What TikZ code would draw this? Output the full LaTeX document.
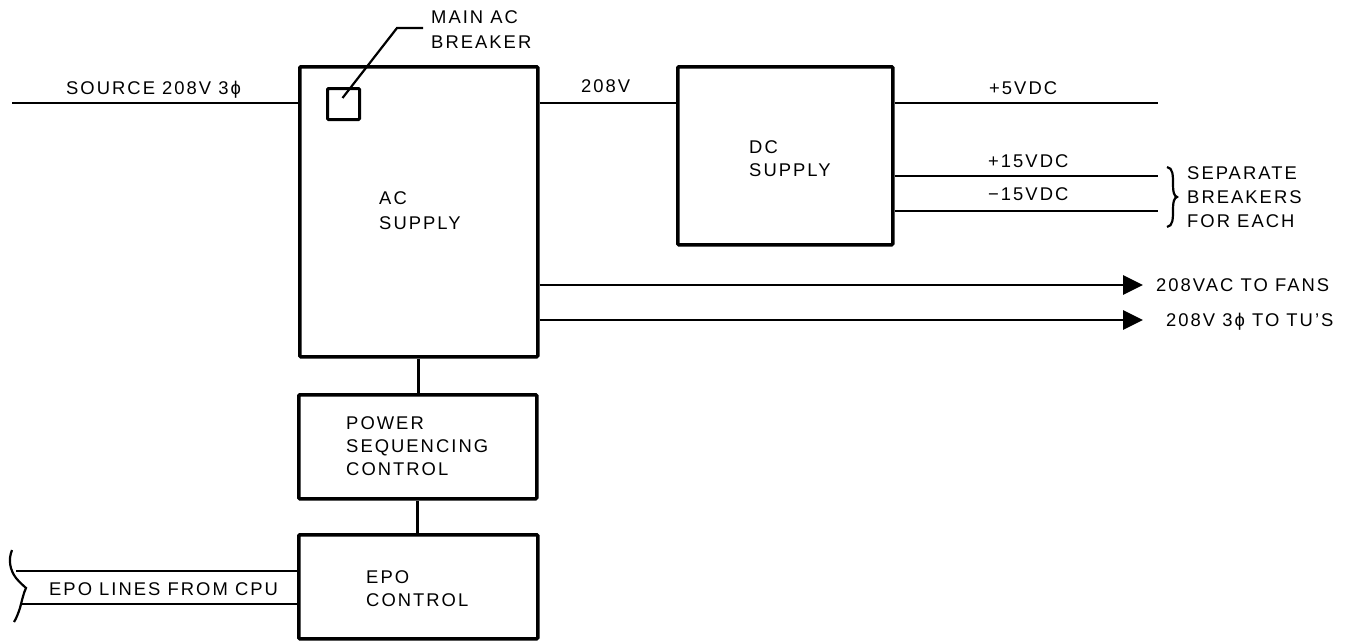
\documentclass[tikz,border=0pt]{standalone}
\usepackage{fontspec}
\setmainfont{Liberation Sans}[LetterSpace=11]
\usetikzlibrary{arrows.meta}
\tikzset{
  blk/.style={draw, line width=3.5pt, rounded corners=1pt, inner sep=0pt, anchor=north west},
  wire/.style={line width=2.9pt},
  arr/.style={line width=2.9pt, -{Triangle[length=20pt,width=19pt]}},
  lbl/.style={inner sep=0pt, anchor=west, text height=13.2pt, text depth=0pt,
              font=\fontsize{18.4}{24}\selectfont},
  thinl/.style={line width=2.2pt}
}
\begin{document}
\begin{tikzpicture}[x=1pt,y=-1pt]
\useasboundingbox (0,0) rectangle (1348,642);
% boxes
\node[blk, minimum width=238pt, minimum height=290pt] (ac) at (298,65) {};
\node[blk, minimum width=215pt, minimum height=178pt] (dc) at (676,65) {};
\node[blk, minimum width=238pt, minimum height=104pt] (psc) at (297,393) {};
\node[blk, minimum width=239pt, minimum height=104pt] (epo) at (297,533) {};
\node[draw, line width=3pt, rounded corners=1pt, inner sep=0pt, anchor=north west,
      minimum width=32pt, minimum height=31pt] (brk) at (326,87) {};
% helper coordinates
\coordinate (srcL) at (12,103);
\coordinate (y208) at (0,103);
\coordinate (p5) at (1158,103);
\coordinate (p15) at (1158,176);
\coordinate (m15) at (1158,211);
\coordinate (fan) at (1143,285);
\coordinate (tus) at (1143,320);
\coordinate (e1) at (16,571);
\coordinate (e2) at (22,604);
\coordinate (ldA) at (397,28);
\coordinate (ldB) at (423,28);
% connectors
\draw[wire] (srcL) -- (srcL -| ac.west);
\draw[wire] (ac.east |- y208) -- (dc.west |- y208);
\draw[wire] (dc.east |- p5) -- (p5);
\draw[wire] (dc.east |- p15) -- (p15);
\draw[wire] (dc.east |- m15) -- (m15);
\draw[arr] (ac.east |- fan) -- (fan);
\draw[arr] (ac.east |- tus) -- (tus);
\draw[wire] (ac.south) -- (ac.south |- psc.north);
\draw[wire] (psc.south) -- (psc.south |- epo.north);
\draw[wire] (e1) -- (e1 -| epo.west);
\draw[wire] (e2) -- (e2 -| epo.west);
\draw[thinl] ([shift={(-1,-6)}]brk.center) -- (ldA) -- (ldB);
% braces
\draw[thinl] (1167,167) .. controls (1173,168) and (1173,175) .. (1173,185)
  .. controls (1173,192) and (1174,196) .. (1177,197)
  .. controls (1174,198) and (1173,202) .. (1173,209)
  .. controls (1173,219) and (1173,226) .. (1167,227);
\draw[thinl] (12,550) .. controls (8,560) and (10,570) .. (16,578)
  .. controls (20,583) and (24,586) .. (26,588)
  .. controls (24,592) and (22,600) .. (20,608)
  .. controls (18,614) and (16,619) .. (14,622);
% labels
\node[lbl] (tsrc) at (66,88) {SOURCE 208V 3ϕ};
\node[lbl] (tmain1) at (431,17) {MAIN AC};
\node[lbl] (tmain2) at (431,42) {BREAKER};
\node[lbl] (t208) at (581,86) {208V};
\node[lbl] (tac1) at (379,198) {AC};
\node[lbl] (tac2) at (379,223) {SUPPLY};
\node[lbl] (tdc1) at (749,147) {DC};
\node[lbl] (tdc2) at (749,170) {SUPPLY};
\node[lbl] (t5) at (989,88) {+5VDC};
\node[lbl] (t15) at (988,161) {+15VDC};
\node[lbl] (tm15) at (988,194) {−15VDC};
\node[lbl] (ts1) at (1187,173) {SEPARATE};
\node[lbl] (ts2) at (1187,197) {BREAKERS};
\node[lbl] (ts3) at (1187,221) {FOR EACH};
\node[lbl] (tfan) at (1156,285) {208VAC TO FANS};
\node[lbl] (ttu) at (1166,320) {208V 3ϕ TO TU’S};
\node[lbl] (tp1) at (346,423) {POWER};
\node[lbl] (tp2) at (346,446) {SEQUENCING};
\node[lbl] (tp3) at (346,469) {CONTROL};
\node[lbl] (te1) at (366,577) {EPO};
\node[lbl] (te2) at (366,600) {CONTROL};
\node[lbl] (tepl) at (49,589) {EPO LINES FROM CPU};
\end{tikzpicture}
\end{document}
